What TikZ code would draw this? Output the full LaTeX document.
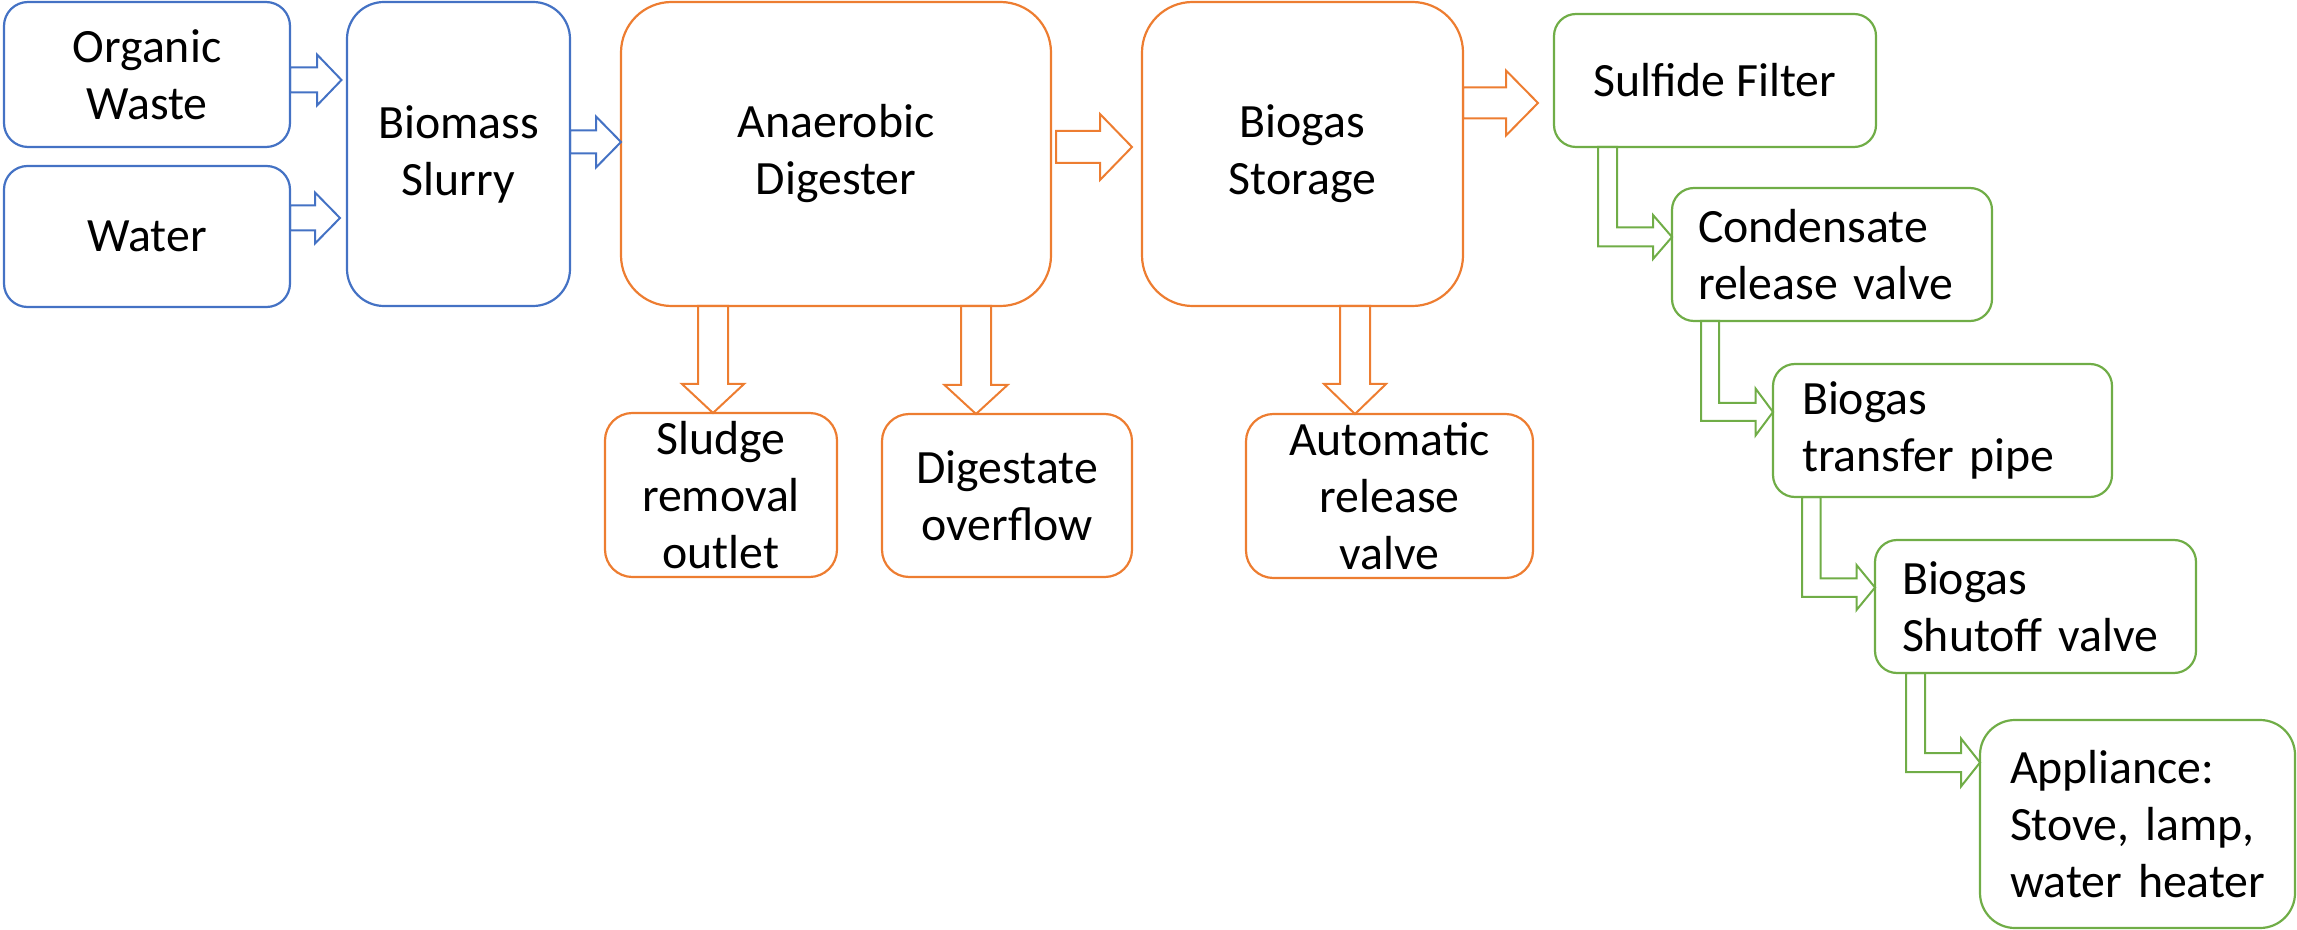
\documentclass[tikz,border=0pt]{standalone}
\usepackage{fontspec}
\setmainfont{Carlito}
\usetikzlibrary{calc}
\definecolor{cblue}{HTML}{4472C4}
\definecolor{corange}{HTML}{ED7D31}
\definecolor{cgreen}{HTML}{70AD47}
% horizontal block arrow: #1 colour, #2 tail, #3 tip, #4 head length, #5 half shaft, #6 half head (px)
\newcommand\harr[6]{%
  \draw[blk,#1] let \p1=(#2), \p2=(#3) in
    (\x1,\y1+#5*0.5pt) -- (\x2-#4*0.5pt,\y1+#5*0.5pt) -- (\x2-#4*0.5pt,\y1+#6*0.5pt)
    -- (\x2,\y1) -- (\x2-#4*0.5pt,\y1-#6*0.5pt) -- (\x2-#4*0.5pt,\y1-#5*0.5pt)
    -- (\x1,\y1-#5*0.5pt) -- cycle;}
% downward block arrow
\newcommand\varr[6]{%
  \draw[blk,#1] let \p1=(#2), \p2=(#3) in
    (\x1-#5*0.5pt,\y1) -- (\x1-#5*0.5pt,\y2+#4*0.5pt) -- (\x1-#6*0.5pt,\y2+#4*0.5pt)
    -- (\x1,\y2) -- (\x1+#6*0.5pt,\y2+#4*0.5pt) -- (\x1+#5*0.5pt,\y2+#4*0.5pt)
    -- (\x1+#5*0.5pt,\y1) -- cycle;}
% elbow block arrow: #2 tail (shaft left, top), #3 tip, #4 shaft width, #5 head length, #6 half head
\newcommand\earr[6]{%
  \draw[blk,#1] let \p1=(#2), \p2=(#3) in
    (\x1,\y1) -- (\x1,\y2-#4*0.25pt) -- (\x2-#5*0.5pt,\y2-#4*0.25pt) -- (\x2-#5*0.5pt,\y2-#6*0.5pt)
    -- (\x2,\y2) -- (\x2-#5*0.5pt,\y2+#6*0.5pt) -- (\x2-#5*0.5pt,\y2+#4*0.25pt)
    -- (\x1+#4*0.5pt,\y2+#4*0.25pt) -- (\x1+#4*0.5pt,\y1) -- cycle;}
\begin{document}
\begin{tikzpicture}[x=0.5pt,y=-0.5pt,
  box/.style={draw, line width=1.1pt, inner xsep=0pt, inner ysep=0pt, outer sep=0pt,
    align=center, text=black, font=\fontsize{23.9}{28.5}\selectfont},
  bluebox/.style={box, draw=cblue},
  orangebox/.style={box, draw=corange},
  greenbox/.style={box, draw=cgreen, align=left},
  blk/.style={line width=1pt, line join=miter}]
\useasboundingbox (0,0) rectangle (2297,930);

% blue column
\node[bluebox, minimum width=143pt, minimum height=72.5pt, rounded corners=12pt] (ow) at (147,74.5) {Organic\\Waste};
\node[bluebox, minimum width=143pt, minimum height=70.5pt, rounded corners=11.75pt] (water) at (147,236.5) {Water};
\node[bluebox, minimum width=111.5pt, minimum height=152pt, rounded corners=18.5pt] (bio) at (458.5,154) {Biomass\\Slurry};

% orange boxes
\node[orangebox, minimum width=215pt, minimum height=152pt, rounded corners=25.3pt] (ad) at (836,154) {Anaerobic\\Digester};
\node[orangebox, minimum width=160.5pt, minimum height=152pt, rounded corners=25.3pt] (bs) at (1302.5,154) {Biogas\\Storage};
\node[orangebox, minimum width=116pt, minimum height=82pt, rounded corners=13.7pt] (sludge) at (721,495) {Sludge\\removal\\outlet};
\node[orangebox, minimum width=125pt, minimum height=81.5pt, rounded corners=13.6pt] (dig) at (1007,495.5) {Digestate\\overflow};
\node[orangebox, minimum width=143.5pt, minimum height=82pt, rounded corners=13.7pt] (auto) at (1389.5,496) {Automatic\\release\\valve};

% green boxes
\node[box, draw=cgreen, minimum width=161pt, minimum height=66.5pt, rounded corners=11pt] (sf) at (1715,80.5) {Sulfide Filter};
\node[greenbox, text width=134pt, inner xsep=13pt, minimum height=66.5pt, rounded corners=11pt] (cond) at (1832,254.5) {\mbox{Condensate}\\\mbox{release valve}};
\node[greenbox, text width=140.5pt, inner xsep=14.5pt, minimum height=66.5pt, rounded corners=11pt] (tp) at (1942.5,430.5) {\mbox{Biogas}\\\mbox{transfer pipe}};
\node[greenbox, text width=133.5pt, inner xsep=13.5pt, minimum height=66.5pt, rounded corners=11pt] (so) at (2035.5,606.5) {\mbox{Biogas}\\\mbox{Shutoff valve}};
\node[greenbox, text width=127.5pt, inner xsep=15pt, minimum height=104pt, rounded corners=17.5pt] (app) at (2137.5,824) {\mbox{Appliance:}\\\mbox{Stove, lamp,}\\\mbox{water heater}};

% blue arrows
\harr{cblue}{$(ow.east)+(0,5.5)$}{$(bio.west)+(-5.5,0)$}{24.5}{12.5}{25.5}
\harr{cblue}{$(water.east)+(0,-18.5)$}{$(bio.west)+(-7,0)$}{25}{12.5}{25.5}
\harr{cblue}{$(bio.east)+(0,-12)$}{ad.west}{25}{11.5}{25.5}

% orange arrows
\harr{corange}{$(ad.east)+(5,-7)$}{$(bs.west)+(-10,0)$}{32}{16}{33}
\harr{corange}{$(bs.east)+(0,-51)$}{$(sf.west)+(-16,0)$}{32}{15.5}{32.5}
\varr{corange}{$(ad.south west)+(92,0)$}{sludge.north}{29}{15}{31}
\varr{corange}{$(ad.south west)+(355,0)$}{dig.north}{29}{15}{31.5}
\varr{corange}{$(bs.south west)+(213,0)$}{auto.north}{30}{15}{31}

% green elbow arrows
\earr{cgreen}{$(sf.south west)+(44,0)$}{$(cond.west)+(0,-17.5)$}{19}{19}{22}
\earr{cgreen}{$(cond.south west)+(29,0)$}{$(tp.west)+(0,-18.5)$}{18}{17.5}{23.5}
\earr{cgreen}{$(tp.south west)+(29,0)$}{$(so.west)+(0,-19)$}{18.5}{18.5}{22.5}
\earr{cgreen}{$(so.south west)+(31,0)$}{$(app.west)+(0,-61.5)$}{19}{19}{24}
\end{tikzpicture}
\end{document}
